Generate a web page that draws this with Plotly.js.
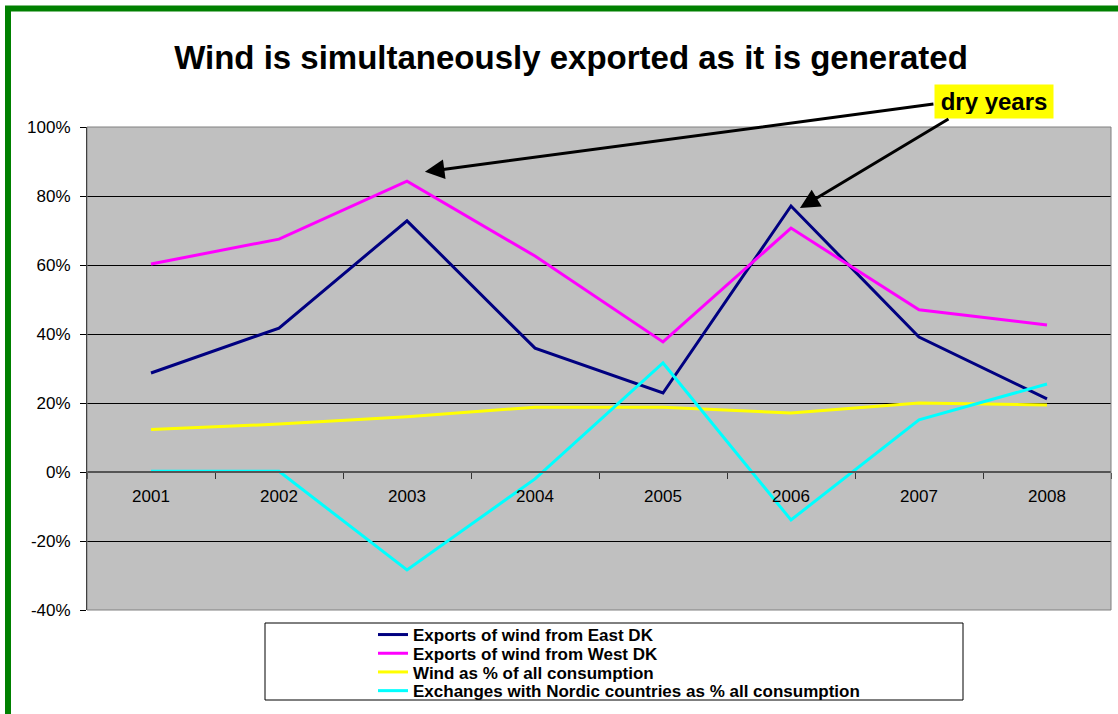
<!DOCTYPE html>
<html>
<head>
<meta charset="utf-8">
<script src="https://cdn.plot.ly/plotly-3.0.1.min.js"></script>
<style>
  html, body { margin: 0; padding: 0; background: #fff; }
  #chart { width: 1118px; height: 714px; }
</style>
</head>
<body>
<div id="chart"></div>
<script>
// Years on the category axis
const years = ['2001', '2002', '2003', '2004', '2005', '2006', '2007', '2008'];

// Shares in percent
const exportsEast = [28.7, 41.7, 72.8, 35.9, 22.9, 77.1, 39.1, 21.2];
const exportsWest = [60.3, 67.5, 84.3, 62.6, 37.7, 70.7, 47.0, 42.6];
const windShare   = [12.3, 13.9, 16.0, 18.8, 18.8, 17.1, 20.0, 19.4];
const nordicShare = [0.2, 0.2, -28.4, -2.0, 31.6, -13.9, 15.1, 25.5];

const seriesNames = [
  'Exports of wind from East DK',
  'Exports of wind from West DK',
  'Wind as % of all consumption',
  'Exchanges with Nordic countries as % all consumption'
];

// Value axis ticks
const yTicks = [-40, -20, 0, 20, 40, 60, 80, 100];
const yTickText = yTicks.map(v => String(v) + '%');

const yRange = [-40, 100];

// Figure geometry (pixels)
const W = 1118, H = 714;
const M = { l: 87, r: 7, t: 127, b: 104, autoexpand: false };
const pw = W - M.l - M.r, ph = H - M.t - M.b;
const px = x => (x - M.l) / pw;          // pixel -> paper x
const py = y => (H - M.b - y) / ph;      // pixel -> paper y

const legendRowStep = 18.7;              // tighter spacing between legend rows

const mk = (name, y, color) => ({
  type: 'scatter', mode: 'lines', name: name, x: years, y: y,
  line: { color: color, width: 3 }, hoverinfo: 'x+y'
});

const data = [
  mk(seriesNames[0], exportsEast, '#000080'),
  mk(seriesNames[1], exportsWest, '#FF00FF'),
  mk(seriesNames[2], windShare, '#FFFF00'),
  mk(seriesNames[3], nordicShare, '#00FFFF')
];

const zeroPos = (0 - yRange[0]) / (yRange[1] - yRange[0]);

const layout = {
  width: W, height: H,
  margin: M,
  paper_bgcolor: '#ffffff',
  plot_bgcolor: '#C0C0C0',
  font: { family: 'Liberation Sans, Arial, sans-serif', color: '#000', size: 17 },
  title: {
    text: '<b>Wind is simultaneously exported as it is generated</b>',
    font: { size: 33, family: 'Liberation Sans, Arial, sans-serif', color: '#000' },
    xref: 'container', x: 571 / W, xanchor: 'center',
    yref: 'container', y: 1 - 57 / H, yanchor: 'middle'
  },
  xaxis: {
    type: 'category',
    range: [-0.5, years.length - 0.5],
    anchor: 'free', position: zeroPos,
    showline: true, linecolor: '#555555', linewidth: 2,
    ticks: 'outside', tickson: 'boundaries', ticklen: 6, tickcolor: '#333', tickwidth: 1,
    ticklabelstandoff: 9,
    showgrid: false, zeroline: false,
    tickfont: { size: 17, color: '#000' },
    fixedrange: true
  },
  yaxis: {
    range: yRange,
    tickmode: 'array', tickvals: yTicks, ticktext: yTickText,
    ticks: 'outside', ticklen: 6, tickcolor: '#000', tickwidth: 1,
    ticklabelstandoff: 6,
    showline: true, linecolor: '#000', linewidth: 1,
    showgrid: true, gridcolor: '#000000', gridwidth: 1,
    zeroline: false,
    tickfont: { size: 17, color: '#000' },
    fixedrange: true
  },
  showlegend: true,
  legend: {
    x: px(373), xanchor: 'left', y: py(617), yanchor: 'top',
    bgcolor: 'rgba(0,0,0,0)', borderwidth: 0,
    font: { family: 'Liberation Sans, Arial, sans-serif', size: 17, color: '#000', weight: 'bold' },
    tracegroupgap: 0
  },
  shapes: [
    // plot frame
    { type: 'rect', xref: 'paper', yref: 'paper', x0: 0, x1: 1, y0: 0, y1: 1,
      line: { color: '#808080', width: 1 }, layer: 'above' },
    // legend box
    { type: 'rect', xref: 'paper', yref: 'paper', x0: px(265), x1: px(963), y0: py(700), y1: py(623),
      line: { color: '#000', width: 1 }, fillcolor: '#ffffff', layer: 'below' },
    // outer green frame
    { type: 'rect', xref: 'paper', yref: 'paper', x0: px(8), x1: px(1200), y0: py(800), y1: py(8.5),
      line: { color: '#008000', width: 6 }, layer: 'above' }
  ],
  annotations: [
    { xref: 'paper', yref: 'paper', x: px(994), y: py(101.5), xanchor: 'center', yanchor: 'middle',
      text: '<b>dry years</b>', showarrow: false,
      font: { size: 24, color: '#000', family: 'Liberation Sans, Arial, sans-serif' },
      bgcolor: '#FFFF00', borderpad: 4, width: 110, height: 25 },
    { xref: 'x', yref: 'y', x: 2.14, y: 87, text: '', showarrow: true,
      axref: 'pixel', ayref: 'pixel', ax: 510, ay: -68,
      arrowhead: 2, arrowsize: 1.3, arrowwidth: 3, arrowcolor: '#000', standoff: 0 },
    { xref: 'x', yref: 'y', x: 5.07, y: 76.5, text: '', showarrow: true,
      axref: 'pixel', ayref: 'pixel', ax: 150, ay: -90,
      arrowhead: 2, arrowsize: 1.3, arrowwidth: 3, arrowcolor: '#000', standoff: 0 }
  ]
};

Plotly.newPlot('chart', data, layout, { displayModeBar: false, staticPlot: true }).then(gd => {
  // pack the legend rows closer together than the default item height
  const items = gd.querySelectorAll('.legend .traces');
  let x0 = null, y0 = null;
  items.forEach((g, i) => {
    const m = /translate\(\s*([-\d.]+)[ ,]+([-\d.]+)\s*\)/.exec(g.getAttribute('transform') || '');
    if (!m) return;
    if (i === 0) { x0 = parseFloat(m[1]); y0 = parseFloat(m[2]); }
    g.setAttribute('transform', 'translate(' + x0 + ',' + (y0 + i * legendRowStep) + ')');
  });
});
</script>
</body>
</html>
